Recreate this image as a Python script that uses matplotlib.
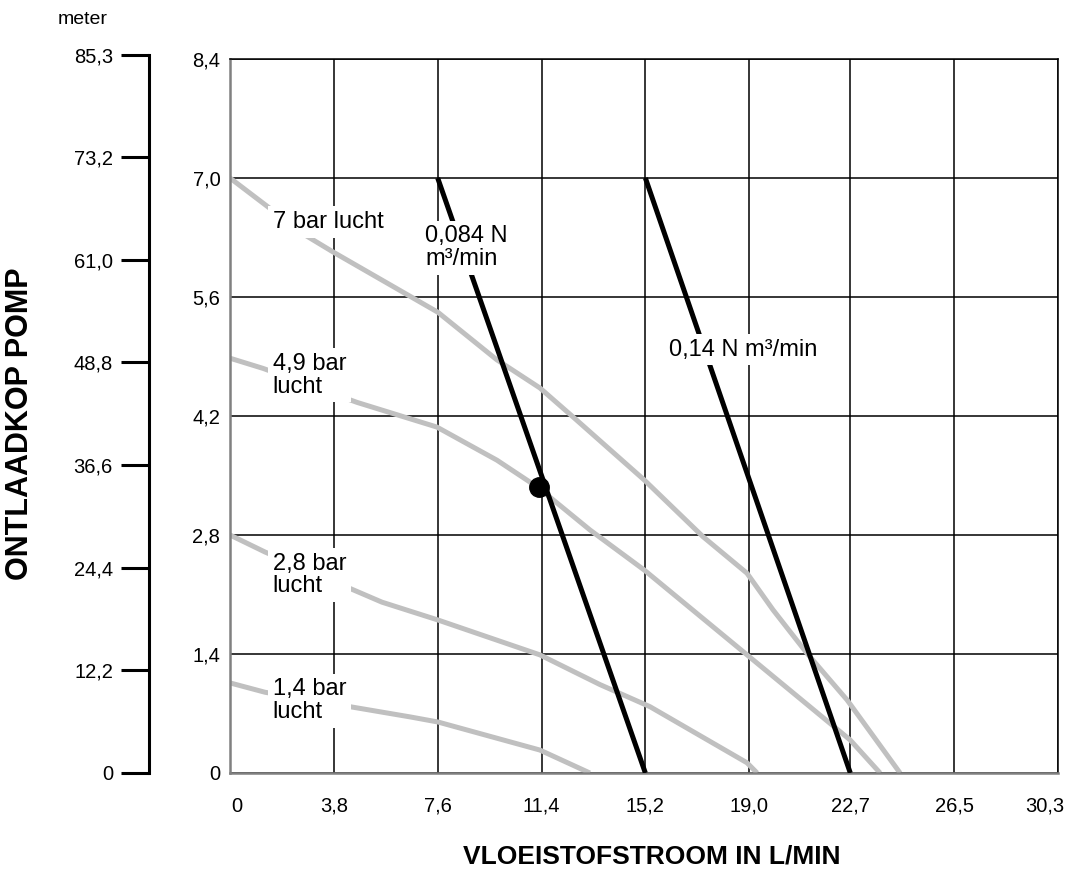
import matplotlib
matplotlib.use("Agg")
import matplotlib.pyplot as plt
import matplotlib.transforms as mtransforms

plt.rcParams['font.family'] = ['Liberation Sans', 'DejaVu Sans']

# x axis (L/min) and y axis (bar) ticks
x_ticks = [0, 3.8, 7.6, 11.4, 15.2, 19.0, 22.7, 26.5, 30.3]
x_labels = ['0', '3,8', '7,6', '11,4', '15,2', '19,0', '22,7', '26,5', '30,3']
y_ticks = [0, 1.4, 2.8, 4.2, 5.6, 7.0, 8.4]
y_labels = ['0', '1,4', '2,8', '4,2', '5,6', '7,0', '8,4']
m_ticks = [0, 12.2, 24.4, 36.6, 48.8, 61.0, 73.2, 85.3]
m_labels = ['0', '12,2', '24,4', '36,6', '48,8', '61,0', '73,2', '85,3']

# pump curves at given air pressure (flow L/min, head bar)
bar7_x = [0, 2.74, 3.77, 7.61, 9.77, 11.34, 12.55, 15.15, 17.31, 18.92, 19.87, 21.11, 22.58, 24.52]
bar7_y = [7.0, 6.33, 6.13, 5.42, 4.86, 4.53, 4.19, 3.45, 2.78, 2.35, 1.92, 1.41, 0.86, 0]
bar49_x = [0, 1.21, 4.65, 7.57, 9.77, 11.27, 13.17, 15.15, 18.92, 22.69, 23.79]
bar49_y = [4.88, 4.76, 4.36, 4.07, 3.68, 3.36, 2.86, 2.39, 1.39, 0.39, 0]
bar28_x = [0, 1.28, 5.56, 7.61, 11.34, 13.54, 15.37, 18.92, 19.29]
bar28_y = [2.80, 2.60, 2.01, 1.80, 1.39, 1.04, 0.78, 0.12, 0]
bar14_x = [0, 1.28, 6.59, 7.61, 11.34, 13.17]
bar14_y = [1.06, 0.95, 0.66, 0.60, 0.27, 0]

# air consumption lines
air084_x = [7.6, 15.2]
air084_y = [7.0, 0]
air14_x = [15.2, 22.7]
air14_y = [7.0, 0]

# operating point
pt_x = [11.3]
pt_y = [3.36]

fig = plt.figure(figsize=(10.69, 8.74), dpi=100)
ax = fig.add_axes([230/1069, 101/874, 828/1069, 714/874])

gray = '#c0c0c0'
for xs, ys in [(bar7_x, bar7_y), (bar49_x, bar49_y), (bar28_x, bar28_y), (bar14_x, bar14_y)]:
    ax.plot(xs, ys, color=gray, lw=3.6, zorder=2, solid_capstyle='butt')
ax.plot(air084_x, air084_y, color='black', lw=3.6, zorder=3, solid_capstyle='butt')
ax.plot(air14_x, air14_y, color='black', lw=3.6, zorder=3, solid_capstyle='butt')
ax.plot(pt_x, pt_y, 'o', color='black', ms=14, zorder=5)

box = dict(facecolor='white', edgecolor='none', boxstyle='square,pad=0.2')
fs = 17
ax.text(1.56, 6.48, '7 bar lucht', fontsize=fs, va='center', ha='left', bbox=box, zorder=4)
ax.text(1.56, 4.68, '4,9 bar\nlucht', fontsize=fs, va='center', ha='left', bbox=box, zorder=4,
        linespacing=1.05)
ax.text(1.56, 2.33, '2,8 bar\nlucht', fontsize=fs, va='center', ha='left', bbox=box, zorder=4,
        linespacing=1.05)
ax.text(1.56, 0.85, '1,4 bar\nlucht', fontsize=fs, va='center', ha='left', bbox=box, zorder=4,
        linespacing=1.05)
ax.text(7.15, 6.18, '0,084 N\nm\u00b3/min', fontsize=fs, va='center', ha='left', bbox=box, zorder=4,
        linespacing=1.05)
ax.text(16.06, 4.98, '0,14 N m\u00b3/min', fontsize=fs, va='center', ha='left', bbox=box, zorder=4)

ax.set_xlim(0, 30.3)
ax.set_ylim(0, 8.4)
ax.set_xticks(x_ticks)
ax.set_xticklabels(x_labels, fontsize=14.5)
ax.set_yticks(y_ticks)
ax.set_yticklabels(y_labels, fontsize=14.5)
ax.tick_params(axis='both', length=0)
ax.tick_params(axis='x', pad=17)
ax.tick_params(axis='y', pad=7)
ax.grid(True, color='black', lw=1.1)
ax.set_axisbelow(True)
for s in ['top', 'right']:
    ax.spines[s].set_color('black')
    ax.spines[s].set_linewidth(1.1)
for s in ['left', 'bottom']:
    ax.spines[s].set_color('#808080')
    ax.spines[s].set_linewidth(1.8)

# nudge the end labels inward like the original
xl = ax.get_xticklabels()
xl[0].set_transform(xl[0].get_transform() + mtransforms.ScaledTranslation(0.07, 0, fig.dpi_scale_trans))
xl[-1].set_transform(xl[-1].get_transform() + mtransforms.ScaledTranslation(-0.13, 0, fig.dpi_scale_trans))

fig.text(652/1069, 1 - 857/874, 'VLOEISTOFSTROOM IN L/MIN', fontsize=19, fontweight='bold',
         ha='center', va='center')

# meter scale on the far left
ax2 = fig.add_axes([149/1069, 101/874, 0.0001, 718/874])
ax2.set_ylim(0, 85.3)
ax2.set_yticks(m_ticks)
ax2.set_yticklabels(m_labels, fontsize=14.5)
ax2.set_xticks([])
for s in ['top', 'right', 'bottom']:
    ax2.spines[s].set_visible(False)
ax2.spines['left'].set_linewidth(2.2)
ax2.tick_params(axis='y', length=20, width=2.2, pad=6, direction='out')
ax2.patch.set_visible(False)

fig.text(83/1069, 1 - 20/874, 'meter', fontsize=14, ha='center', va='center')
fig.text(20/1069, 1 - 424/874, 'ONTLAADKOP POMP', fontsize=22, fontweight='bold',
         rotation=90, ha='center', va='center')

fig.savefig('out.png', dpi=100)
